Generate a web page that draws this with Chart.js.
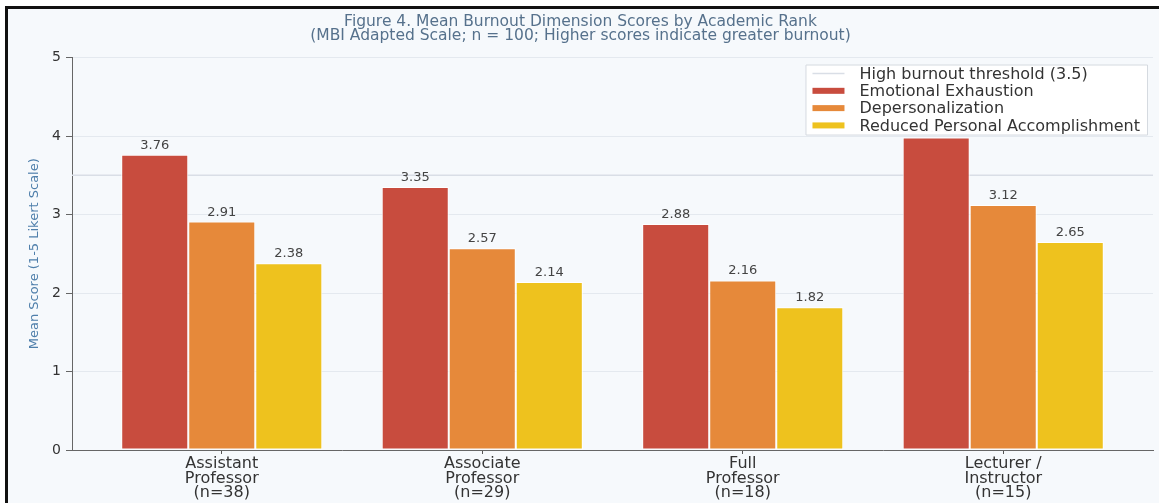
<!DOCTYPE html>
<html>
<head>
<meta charset="utf-8">
<script src="https://cdn.jsdelivr.net/npm/chart.js@4.4.1/dist/chart.umd.min.js"></script>
<style>
  html, body { margin: 0; padding: 0; background: #fff; overflow: hidden; }
  #moldura { position: absolute; left: 5px; top: 6px; width: 1160px; height: 500px; border-left: 3px solid #111; border-top: 3px solid #111; background: #f6f9fc; }
  #grafico { position: absolute; left: 0; top: 0; }
</style>
</head>
<body>
<div id="moldura"></div>
<canvas id="grafico" width="1159" height="503"></canvas>
<script>
//Dados
const cargos = [
    ['Assistant', 'Professor', '(n=38)'],
    ['Associate', 'Professor', '(n=29)'],
    ['Full', 'Professor', '(n=18)'],
    ['Lecturer /', 'Instructor', '(n=15)']
]
const exaustao = [3.76, 3.35, 2.88, 3.98]
const despersonalizacao = [2.91, 2.57, 2.16, 3.12]
const realizacao = [2.38, 2.14, 1.82, 2.65]
const limiar = 3.5
const nomesSeries = ['Emotional Exhaustion', 'Depersonalization', 'Reduced Personal Accomplishment']
const nomeLimiar = 'High burnout threshold (3.5)'
const cores = ['#c84c3e', '#e6893a', '#eec21e']
const corLimiar = '#d9dee6'
const titulo = ['Figure 4. Mean Burnout Dimension Scores by Academic Rank', '(MBI Adapted Scale; n = 100; Higher scores indicate greater burnout)']
const tituloY = 'Mean Score (1-5 Likert Scale)'

const fonte = 'DejaVu Sans'

//Transformar valores em pontos {x, y}
const pontos = (arr) => arr.map((v, i) => ({ x: i, y: v }))

//Rótulos com os valores em cima das barras
const rotulosValores = {
    id: 'rotulosValores',
    afterDatasetsDraw(chart) {
        const ctx = chart.ctx
        ctx.save()
        ctx.font = '13px "' + fonte + '"'
        ctx.fillStyle = '#444'
        ctx.textAlign = 'center'
        ctx.textBaseline = 'alphabetic'
        chart.data.datasets.forEach((ds, i) => {
            if (ds.type === 'line') return
            chart.getDatasetMeta(i).data.forEach((barra, j) => {
                ctx.fillText(ds.data[j].y.toFixed(2), barra.x, barra.y - 6)
            })
        })
        ctx.restore()
    }
}

//Legenda desenhada por cima de tudo
const legendaCaixa = {
    id: 'legendaCaixa',
    afterDraw(chart) {
        const ctx = chart.ctx
        const area = chart.chartArea
        ctx.save()
        ctx.font = '16px "' + fonte + '"'
        const textos = [nomeLimiar].concat(nomesSeries)
        let maior = 0
        textos.forEach(t => { maior = Math.max(maior, ctx.measureText(t).width) })
        const w = 7 + 32 + 15 + maior + 7
        const h = 70
        const x = area.right - 6 - w
        const y = area.top + 7
        ctx.fillStyle = 'rgba(255,255,255,0.97)'
        ctx.strokeStyle = '#d5dae0'
        ctx.lineWidth = 1
        ctx.beginPath()
        ctx.rect(x + 0.5, y + 0.5, w, h)
        ctx.fill()
        ctx.stroke()
        ctx.textBaseline = 'middle'
        ctx.textAlign = 'left'
        textos.forEach((t, i) => {
            const cy = y + 9 + i * 17.3
            if (i === 0) {
                ctx.strokeStyle = corLimiar
                ctx.lineWidth = 1.5
                ctx.beginPath()
                ctx.moveTo(x + 7, cy)
                ctx.lineTo(x + 39, cy)
                ctx.stroke()
            } else {
                ctx.fillStyle = cores[i - 1]
                ctx.fillRect(x + 7, cy - 3, 32, 6)
            }
            ctx.fillStyle = '#333'
            ctx.fillText(t, x + 54, cy + 1)
        })
        ctx.restore()
    }
}

//Criar gráfico
let ctxBurnout = document.getElementById('grafico')
let graficoBurnout = new Chart(ctxBurnout, {
    type: 'bar',
    data: {
        datasets: [
            {
                type: 'line',
                label: nomeLimiar,
                data: [{ x: -0.575, y: limiar }, { x: 3.575, y: limiar }],
                borderColor: corLimiar,
                borderWidth: 1.5,
                pointRadius: 0,
                order: 10
            },
            {
                label: nomesSeries[0],
                data: pontos(exaustao),
                backgroundColor: cores[0],
                borderColor: '#ffffff',
                borderWidth: 1,
                borderSkipped: false,
                order: 1
            },
            {
                label: nomesSeries[1],
                data: pontos(despersonalizacao),
                backgroundColor: cores[1],
                borderColor: '#ffffff',
                borderWidth: 1,
                borderSkipped: false,
                order: 1
            },
            {
                label: nomesSeries[2],
                data: pontos(realizacao),
                backgroundColor: cores[2],
                borderColor: '#ffffff',
                borderWidth: 1,
                borderSkipped: false,
                order: 1
            }
        ]
    },
    options: {
        responsive: false,
        animation: false,
        categoryPercentage: 0.772,
        barPercentage: 1,
        layout: { padding: { left: 8, right: 6, top: 8, bottom: 0 } },
        plugins: {
            legend: { display: false },
            tooltip: { enabled: false },
            title: {
                display: true,
                text: titulo,
                color: '#56718c',
                font: { family: fonte, size: 15.5, weight: 'normal', lineHeight: 0.92 },
                padding: { top: 7, bottom: 14 }
            }
        },
        scales: {
            x: {
                type: 'linear',
                min: -0.575,
                max: 3.575,
                offset: false,
                afterBuildTicks: (s) => { s.ticks = cargos.map((c, i) => ({ value: i })) },
                afterFit: (s) => { s.height = 53 },
                ticks: {
                    autoSkip: false,
                    maxRotation: 0,
                    padding: 3,
                    color: '#333',
                    font: { family: fonte, size: 16, lineHeight: 0.9 },
                    callback: (v) => cargos[v]
                },
                grid: { offset: false, drawOnChartArea: false, drawTicks: true, tickLength: 4, tickColor: '#555' },
                border: { color: '#666', width: 1 }
            },
            y: {
                min: 0,
                max: 5,
                afterFit: (s) => { s.width = 64 },
                ticks: {
                    stepSize: 1,
                    padding: 5,
                    color: '#333',
                    font: { family: fonte, size: 14 }
                },
                grid: { color: '#e4e9ef', lineWidth: 1, tickLength: 6, tickColor: '#666' },
                border: { color: '#666', width: 1 },
                title: {
                    display: true,
                    text: tituloY,
                    color: '#4f7fab',
                    font: { family: fonte, size: 13 },
                    padding: { top: 19, bottom: 0 }
                }
            }
        }
    },
    plugins: [rotulosValores, legendaCaixa]
})
</script>
</body>
</html>
